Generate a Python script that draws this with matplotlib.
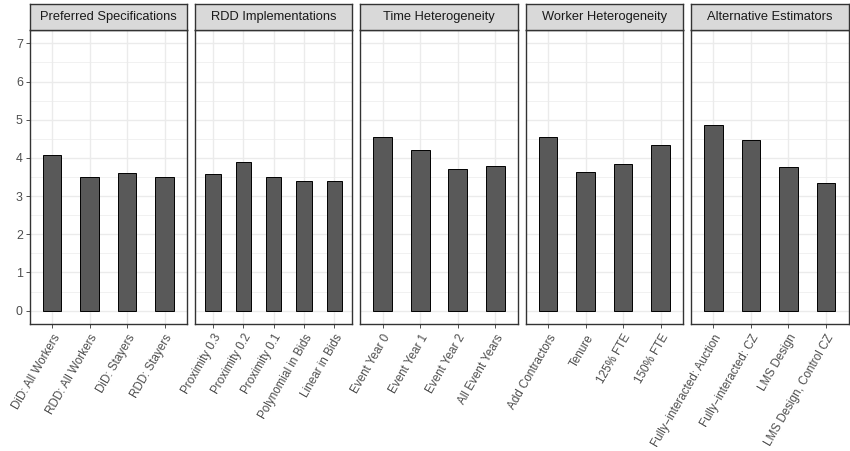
import matplotlib
matplotlib.use("Agg")
import matplotlib.pyplot as plt
from matplotlib.ticker import MultipleLocator

plt.rcParams['font.family'] = ['Liberation Sans', 'DejaVu Sans']

# Facet titles
panels = [
    "Preferred Specifications",
    "RDD Implementations",
    "Time Heterogeneity",
    "Worker Heterogeneity",
    "Alternative Estimators",
]

# Category labels per facet
preferred_labels = ["DiD: All Workers", "RDD: All Workers", "DiD: Stayers", "RDD: Stayers"]
rdd_labels = ["Proximity 0.3", "Proximity 0.2", "Proximity 0.1", "Polynomial in Bids", "Linear in Bids"]
time_labels = ["Event Year 0", "Event Year 1", "Event Year 2", "All Event Years"]
worker_labels = ["Add Contractors", "Tenure", "125% FTE", "150% FTE"]
alt_labels = ["Fully\u2212interacted: Auction", "Fully\u2212interacted: CZ", "LMS Design", "LMS Design, Control CZ"]

# Estimates per facet
preferred_vals = [4.08, 3.49, 3.60, 3.49]
rdd_vals = [3.57, 3.89, 3.49, 3.39, 3.39]
time_vals = [4.56, 4.20, 3.70, 3.79]
worker_vals = [4.54, 3.62, 3.85, 4.35]
alt_vals = [4.85, 4.47, 3.75, 3.35]

yticks = [0, 1, 2, 3, 4, 5, 6, 7]

facets = [
    (preferred_labels, preferred_vals),
    (rdd_labels, rdd_vals),
    (time_labels, time_vals),
    (worker_labels, worker_vals),
    (alt_labels, alt_vals),
]

W, H = 850, 451
fig = plt.figure(figsize=(W / 100, H / 100), dpi=100)

left0, right_end = 29.5, 848.5
gap = 7.7
pw = (right_end - left0 - 4 * gap) / 5
top_px, bottom_px = 30.0, 324.0
strip_top = 4.3

bar_fill = "#595959"
grid_col = "#EBEBEB"
frame_col = "#333333"
text_col = "#4D4D4D"
ytick_fs = 8.9
xtick_fs = 8.4

for i, (title, (labels, vals)) in enumerate(zip(panels, facets)):
    x0 = left0 + i * (pw + gap)
    ax = fig.add_axes([x0 / W, 1 - bottom_px / H, pw / W, (bottom_px - top_px) / H])
    pos = list(range(1, len(labels) + 1))
    ax.bar(pos, vals, width=0.5, color=bar_fill, edgecolor="black", linewidth=0.7, zorder=3)
    ax.set_xlim(0.4, len(labels) + 0.6)
    ax.set_ylim(-0.35, 7.35)
    ax.set_xticks(pos)
    ax.set_xticklabels(labels, rotation=60, ha="right", rotation_mode="anchor",
                       fontsize=xtick_fs, color=text_col)
    ax.yaxis.set_major_locator(MultipleLocator(1))
    ax.yaxis.set_minor_locator(MultipleLocator(0.5))
    ax.set_yticks(yticks)
    ax.grid(True, which="major", color=grid_col, linewidth=1.0, zorder=0)
    ax.grid(True, which="minor", axis="y", color=grid_col, linewidth=0.5, zorder=0)
    ax.set_axisbelow(True)
    ax.tick_params(axis="both", which="major", length=2.8, width=0.6, color=frame_col,
                   labelcolor=text_col, pad=2)
    ax.tick_params(axis="y", labelsize=ytick_fs)
    ax.tick_params(axis="x", labelsize=xtick_fs, pad=3)
    ax.tick_params(axis="both", which="minor", length=0)
    if i == 0:
        ax.set_yticklabels([str(t) for t in yticks])
    else:
        ax.tick_params(axis="y", which="major", left=False, labelleft=False)
    for sp in ax.spines.values():
        sp.set_color(frame_col)
        sp.set_linewidth(1.0)
        sp.set_zorder(4)

    # Facet strip
    sax = fig.add_axes([x0 / W, 1 - top_px / H, pw / W, (top_px - strip_top) / H])
    sax.set_facecolor("#D9D9D9")
    sax.set_xticks([])
    sax.set_yticks([])
    for sp in sax.spines.values():
        sp.set_color(frame_col)
        sp.set_linewidth(1.0)
    sax.text(0.5, 0.5, title, ha="center", va="center", fontsize=9.3,
             color="#1A1A1A", transform=sax.transAxes)

fig.savefig("out.png", dpi=100, facecolor="white")
